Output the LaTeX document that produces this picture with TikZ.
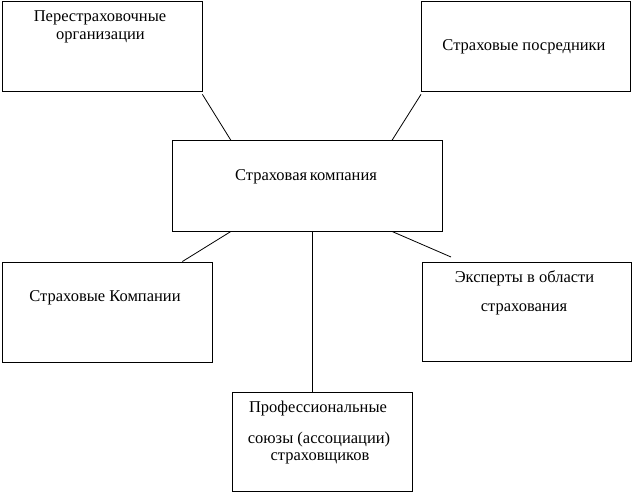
\documentclass[tikz,border=0pt]{standalone}
\usepackage{fontspec}
\setmainfont{Liberation Serif}
\begin{document}
\begin{tikzpicture}[x=1pt,y=-1pt,
  box/.style={draw,line width=0.9pt,rectangle,inner sep=0pt,anchor=north west},
  lbl/.style={anchor=base,inner sep=0pt,font=\fontsize{16.5}{18}\selectfont},
  link/.style={draw,line width=0.8pt}]
\useasboundingbox (0,0) rectangle (632,492);
% boxes
\node[box,minimum width=200pt,minimum height=90pt] (b1) at (1.5,1.5) {};
\node[box,minimum width=209pt,minimum height=90pt] (b2) at (421,1.5) {};
\node[box,minimum width=270pt,minimum height=90pt] (c) at (171.5,140.5) {};
\node[box,minimum width=210pt,minimum height=100pt] (b4) at (1.5,261.5) {};
\node[box,minimum width=209pt,minimum height=99pt] (b5) at (421.5,261.5) {};
\node[box,minimum width=180pt,minimum height=99pt] (b6) at (231.5,391.5) {};
% texts
\node[lbl] (t1a) at (100,22) {Перестраховочные};
\node[lbl] (t1b) at (100.5,40) {организации};
\node[lbl] (t2) at (524,51) {Страховые посредники};
\node[lbl] (t3) at (306,180) {Страховая\,компания};
\node[lbl] (t4) at (105,301) {Страховые Компании};
\node[lbl] (t5a) at (524.5,282) {Эксперты в области};
\node[lbl] (t5b) at (524,311) {страхования};
\node[lbl] (t6a) at (318,412) {Профессиональные};
\node[lbl] (t6b) at (319,443) {союзы (ассоциации)};
\node[lbl] (t6c) at (320,460) {страховщиков};
% connectors
\draw[link] ([yshift=-2pt]b1.south east) -- ([xshift=59.5pt]c.north west);
\draw[link] ([yshift=-2pt]b2.south west) -- ([xshift=-50.5pt]c.north east);
\draw[link] ([xshift=59.5pt]c.south west) -- ([xshift=-30pt]b4.north east);
\draw[link] ([xshift=5.5pt]c.south) -- ([xshift=5.5pt]c.south |- b6.north);
\draw[link] ([xshift=-50.5pt]c.south east) -- ([xshift=29.5pt,yshift=4.5pt]b5.north west);
\end{tikzpicture}
\end{document}
